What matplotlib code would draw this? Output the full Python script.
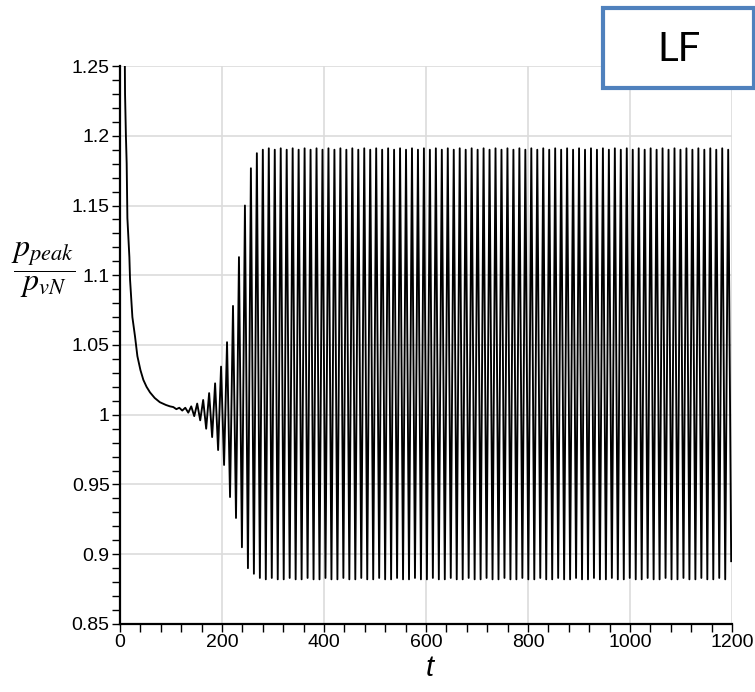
"""
p_peak / p_vN vs t (LF case) — 초기 감쇠 후 진동이 자라서 포화되는 모양.
"""
import numpy as np
import matplotlib
matplotlib.use("Agg")
import matplotlib.pyplot as plt
from matplotlib.patches import Rectangle
from matplotlib.ticker import MultipleLocator, FixedLocator

plt.rcParams["font.family"] = ["Liberation Sans", "DejaVu Sans"]
plt.rcParams["mathtext.fontset"] = "stix"

# 초기 감쇠 구간 (t, p/p_vN) — 그림에서 읽은 값, 1.25 넘는 부분은 잘림
decay_t = [0.0, 1.5, 8.5, 9.8, 11.5, 13.0, 14.4, 18.3, 19.6, 24.2, 29.4, 34.0,
           40.0, 45.7, 52.0, 58.8, 68.0, 78.0, 90.0, 98.0]
decay_p = [1.248, 1.30, 1.30, 1.230, 1.200, 1.180, 1.141, 1.113, 1.097, 1.070,
           1.056, 1.042, 1.032, 1.025, 1.020, 1.016, 1.012, 1.009, 1.007, 1.006]

# 성장 구간: 골(trough) -> 마루(peak) 순으로 번갈아
grow_t = [104.5, 110.4, 116.2, 122.0, 127.9, 133.8, 139.6, 145.5, 151.3, 157.2,
          163.0, 168.9, 174.7, 180.6, 186.4, 192.3, 198.1, 204.0, 209.8, 215.7,
          221.5, 227.4, 233.2, 239.0, 244.9, 250.8, 256.6, 262.5, 268.3, 274.2]
grow_p = [1.0055, 1.0040, 1.0050, 1.0030, 1.0050, 1.0015, 1.0060, 0.9990, 1.0080, 0.9960,
          1.0106, 0.9900, 1.0155, 0.9840, 1.0225, 0.9747, 1.0345, 0.9640, 1.0520, 0.9410,
          1.0780, 0.9260, 1.1130, 0.9050, 1.1500, 0.8900, 1.1767, 0.8860, 1.1875, 0.8830]

# 포화 구간: 주기마다 마루/골 값
osc_period = 11.7
sat_t0 = 280.0
sat_peaks = [1.190, 1.191, 1.190, 1.191, 1.190, 1.191, 1.190, 1.191, 1.190, 1.191,
             1.190, 1.191, 1.190, 1.191, 1.190, 1.191, 1.190, 1.191, 1.190, 1.191,
             1.190, 1.191, 1.190, 1.191, 1.190, 1.191, 1.190, 1.191, 1.190, 1.191,
             1.190, 1.191, 1.190, 1.191, 1.190, 1.191, 1.190, 1.191, 1.190, 1.191,
             1.190, 1.191, 1.190, 1.191, 1.190, 1.191, 1.190, 1.191, 1.190, 1.191,
             1.190, 1.191, 1.190, 1.191, 1.190, 1.191, 1.190, 1.191, 1.190, 1.191,
             1.190, 1.191, 1.190, 1.191, 1.190, 1.191, 1.190, 1.191, 1.190, 1.191,
             1.190, 1.191, 1.190, 1.191, 1.190, 1.191, 1.190, 1.191, 1.190]
sat_troughs = [0.882, 0.883, 0.882, 0.882, 0.883, 0.882, 0.882, 0.883, 0.882, 0.882,
               0.883, 0.882, 0.882, 0.883, 0.882, 0.882, 0.883, 0.882, 0.882, 0.883,
               0.882, 0.882, 0.883, 0.882, 0.882, 0.883, 0.882, 0.882, 0.883, 0.882,
               0.882, 0.883, 0.882, 0.882, 0.883, 0.882, 0.882, 0.883, 0.882, 0.882,
               0.883, 0.882, 0.882, 0.883, 0.882, 0.882, 0.883, 0.882, 0.882, 0.883,
               0.882, 0.882, 0.883, 0.882, 0.882, 0.883, 0.882, 0.882, 0.883, 0.882,
               0.882, 0.883, 0.882, 0.882, 0.883, 0.882, 0.882, 0.883, 0.882, 0.882,
               0.883, 0.882, 0.882, 0.883, 0.882, 0.882, 0.883, 0.882, 0.895]

x_ticks = [0, 200, 400, 600, 800, 1000, 1200]
y_ticks = [0.85, 0.9, 0.95, 1.0, 1.05, 1.1, 1.15, 1.2, 1.25]
y_ticklabels = ["0.85", "0.9", "0.95", "1", "1.05", "1.1", "1.15", "1.2", "1.25"]


def build_series():
    t = list(decay_t) + list(grow_t)
    p = list(decay_p) + list(grow_p)
    for i, (pk, tr) in enumerate(zip(sat_peaks, sat_troughs)):
        tp = sat_t0 + i * osc_period
        t += [tp, tp + osc_period / 2]
        p += [pk, tr]
    return np.array(t), np.array(p)


def main():
    t, p = build_series()

    fig = plt.figure(figsize=(7.55, 6.92), dpi=100)
    ax = fig.add_axes([0.159, 0.0983, 0.8105, 0.8063])

    ax.plot(t, p, color="black", lw=1.35, zorder=3)

    ax.set_xlim(0, 1200)
    ax.set_ylim(0.85, 1.25)
    ax.xaxis.set_major_locator(FixedLocator(x_ticks))
    ax.xaxis.set_minor_locator(MultipleLocator(40))
    ax.set_yticks(y_ticks)
    ax.set_yticklabels(y_ticklabels)
    ax.yaxis.set_minor_locator(MultipleLocator(0.01))

    ax.grid(True, which="major", color="#dcdcdc", lw=1.2, zorder=0)
    for s in ("top", "right"):
        ax.spines[s].set_visible(False)
    for s in ("left", "bottom"):
        ax.spines[s].set_linewidth(1.6)
    ax.tick_params(which="both", direction="out", length=6, width=1.0,
                   labelsize=14, pad=1.5)

    # 세로축 라벨: 분수 형태, 가로로
    fig.text(0.057, 0.61, r"$\dfrac{p_{peak}}{p_{vN}}$", fontsize=23,
             ha="center", va="center")
    fig.text(430 / 755, 1 - 668 / 692, "t", fontsize=21, style="italic",
             ha="center", va="center")

    # 오른쪽 위 "LF" 상자
    box = Rectangle((0.7987, 0.8728), 0.2, 0.1156, transform=fig.transFigure,
                    facecolor="white", edgecolor="#4f81bd", lw=3, zorder=5)
    fig.add_artist(box)
    fig.text(0.8987, 0.929, "LF", fontsize=29, family=["Lato", "DejaVu Sans"],
             ha="center", va="center", zorder=6)

    fig.savefig("out.png", dpi=100)


if __name__ == "__main__":
    main()
